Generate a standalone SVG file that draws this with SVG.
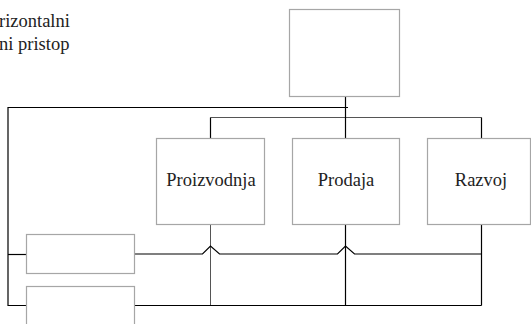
<svg xmlns="http://www.w3.org/2000/svg" width="531" height="324" viewBox="0 0 531 324">
  <style>
    .box { fill: #ffffff; stroke: #a6a6a6; stroke-width: 1.2; }
    .ln { fill: none; stroke: #000000; stroke-width: 1.2; }
    .lt { fill: none; stroke: #555555; stroke-width: 1; }
  </style>
  <rect width="531" height="324" fill="#ffffff"/>

  <g font-family="Liberation Serif, Times New Roman, serif" font-size="18.5" fill="#222222">
    <!-- caption -->
    <g id="caption">
      <text x="-1" y="27">rizontalni</text>
      <text x="-1" y="50">ni pristop</text>
    </g>

    <!-- connectors -->
    <g id="connectors">
      <!-- loop from top box round the left side -->
      <polyline class="ln" points="348,107.5 8,107.5 8,305.5 26,305.5"/>
      <line class="ln" x1="8" y1="254.5" x2="26" y2="254.5"/>
      <line class="ln" x1="345.5" y1="97" x2="345.5" y2="117" stroke-width="2"/>
      <!-- branch to departments -->
      <line class="lt" x1="210.5" y1="117.5" x2="481.5" y2="117.5"/>
      <line class="ln" x1="210.5" y1="117.5" x2="210.5" y2="138"/>
      <line class="ln" x1="345.5" y1="117" x2="345.5" y2="138"/>
      <line class="ln" x1="481.5" y1="117.5" x2="481.5" y2="138"/>
      <!-- department drops -->
      <line class="lt" x1="210.5" y1="225" x2="210.5" y2="305.5" stroke="#777777"/>
      <line class="ln" x1="345.5" y1="225" x2="345.5" y2="305.5"/>
      <line class="ln" x1="481.5" y1="225" x2="481.5" y2="305.5"/>
      <!-- row from first small box, hopping over the drops -->
      <polyline class="ln" points="135,254 202.5,254 210.5,246 219.5,254 337.5,254 345.5,246 354.5,254 481.5,254"/>
      <!-- row from second small box -->
      <line class="ln" x1="135" y1="305.5" x2="481.5" y2="305.5"/>
    </g>

    <g id="top">
      <rect class="box" x="289.5" y="9.5" width="110" height="87"/>
    </g>
    <g id="proizvodnja">
      <rect class="box" x="156.5" y="138.5" width="108" height="86"/>
      <text x="211" y="186" text-anchor="middle">Proizvodnja</text>
    </g>
    <g id="prodaja">
      <rect class="box" x="292.5" y="138.5" width="107" height="86"/>
      <text x="346" y="186" text-anchor="middle">Prodaja</text>
    </g>
    <g id="razvoj">
      <rect class="box" x="427.5" y="138.5" width="103" height="86"/>
      <text x="481" y="186" text-anchor="middle">Razvoj</text>
    </g>
    <g id="small1">
      <rect class="box" x="26.5" y="234.5" width="108" height="39"/>
    </g>
    <g id="small2">
      <rect class="box" x="26.5" y="286.5" width="108" height="45"/>
    </g>
  </g>
</svg>
